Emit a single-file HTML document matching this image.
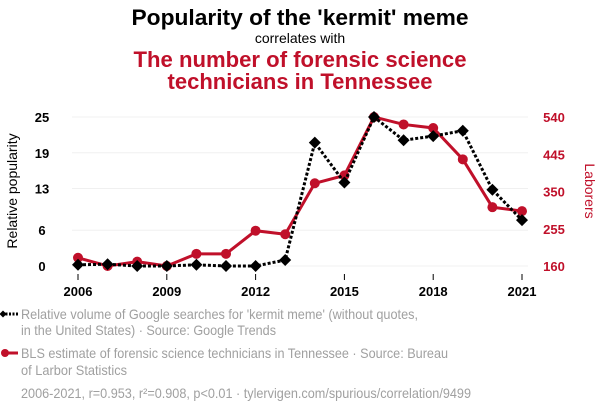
<!DOCTYPE html>
<html><head><meta charset="utf-8"><style>
body{margin:0;background:#fff;width:600px;height:414px;overflow:hidden;font-family:"Liberation Sans",sans-serif}
svg text{font-family:"Liberation Sans",sans-serif}
</style></head><body>
<svg id="c" width="600" height="414">
<text x="300" y="25" text-anchor="middle" font-size="22" font-weight="bold" fill="#000" textLength="337" lengthAdjust="spacingAndGlyphs">Popularity of the 'kermit' meme</text>
<text x="300" y="43" text-anchor="middle" font-size="14" fill="#000">correlates with</text>
<text x="300" y="67" text-anchor="middle" font-size="22" font-weight="bold" fill="#c0102a" textLength="333" lengthAdjust="spacingAndGlyphs">The number of forensic science</text>
<text x="300" y="89" text-anchor="middle" font-size="22" font-weight="bold" fill="#c0102a">technicians in Tennessee</text>
<text transform="translate(17,191) rotate(-90)" text-anchor="middle" font-size="14" fill="#000">Relative popularity</text>
<text transform="translate(585,191) rotate(90)" text-anchor="middle" font-size="14" fill="#c0102a">Laborers</text>
<g id="grid"></g><g id="axes"></g><g id="marks"></g>
<g>
<line x1="2" y1="314" x2="18" y2="314" stroke="#000" stroke-width="3" stroke-dasharray="2,1.5"/>
<rect x="0.5" y="311.5" width="5" height="5" transform="rotate(45 3 314)" fill="#000"/>
<text x="21" y="319" font-size="14" fill="#a0a0a0" textLength="397" lengthAdjust="spacingAndGlyphs">Relative volume of Google searches for 'kermit meme' (without quotes,</text>
<text x="21" y="335" font-size="14" fill="#a0a0a0" textLength="255" lengthAdjust="spacingAndGlyphs">in the United States) · Source: Google Trends</text></g>
<g>
<line x1="3" y1="353" x2="18" y2="353" stroke="#c0102a" stroke-width="3"/>
<circle cx="5" cy="353" r="4" fill="#c0102a"/>
<text x="21" y="358" font-size="14" fill="#a0a0a0" textLength="427" lengthAdjust="spacingAndGlyphs">BLS estimate of forensic science technicians in Tennessee · Source: Bureau</text>
<text x="21" y="375" font-size="14" fill="#a0a0a0" textLength="106" lengthAdjust="spacingAndGlyphs">of Larbor Statistics</text></g>
<text x="21" y="398" font-size="14" fill="#a0a0a0" textLength="450" lengthAdjust="spacingAndGlyphs">2006-2021, r=0.953, r²=0.908, p&lt;0.01 · tylervigen.com/spurious/correlation/9499</text>
</svg>
<script>
const years=[2006,2007,2008,2009,2010,2011,2012,2013,2014,2015,2016,2017,2018,2019,2020,2021];
const kermit=[0.2,0.3,0,0,0.2,0,0,1,20.7,14,25,21.1,21.8,22.7,12.8,7.7];
const techs=[181,160,171,160,191,191,250,241,371,391,540,521,512,432,310,300];
const leftTicks=[0,6,13,19,25];
const rightTicks=[160,255,350,445,540];
const xTicks=[2006,2009,2012,2015,2018,2021];
const NS="http://www.w3.org/2000/svg";
const x=v=>78+(v-2006)/15*444;
const yl=v=>266-v/25*149;
const yr=v=>266-(v-160)/380*149;
function mk(t,a,p){const e=document.createElementNS(NS,t);for(const k in a)e.setAttribute(k,a[k]);p.appendChild(e);return e;}
const grid=document.getElementById('grid'),axes=document.getElementById('axes'),marks=document.getElementById('marks');
leftTicks.forEach((t,i)=>{
 const g=mk('line',{x1:72,x2:528,y1:yl(t),y2:yl(t),stroke:'#f0f0f0','stroke-width':1},grid);
 
 
 const l=mk('text',{x:42,y:yl(t)+5,'text-anchor':'middle','font-size':13,'font-weight':'bold',fill:'#000'},axes);l.textContent=t;
 
 
 const r=mk('text',{x:554,y:yr(rightTicks[i])+5,'text-anchor':'middle','font-size':13,'font-weight':'bold',fill:'#c0102a'},axes);r.textContent=rightTicks[i];
 
 
});
xTicks.forEach(t=>{
 mk('line',{x1:x(t),x2:x(t),y1:274,y2:280,stroke:'#000','stroke-width':1},axes);
 const l=mk('text',{x:x(t),y:296,'text-anchor':'middle','font-size':13,'font-weight':'bold',fill:'#000'},axes);l.textContent=t;
 
 
});
const rp=mk('polyline',{points:years.map((y,i)=>x(y)+','+yr(techs[i])).join(' '),fill:'none',stroke:'#c0102a','stroke-width':3},marks);


years.forEach((y,i)=>{const c=mk('circle',{cx:x(y),cy:yr(techs[i]),r:5,fill:'#c0102a'},marks);
 
 });
const kp=mk('polyline',{points:years.map((y,i)=>x(y)+','+yl(kermit[i])).join(' '),fill:'none',stroke:'#000','stroke-width':3,'stroke-dasharray':'3,2'},marks);


years.forEach((y,i)=>{const cx=x(y),cy=yl(kermit[i]);
 const d=mk('polygon',{points:`${cx},${cy-6} ${cx+6},${cy} ${cx},${cy+6} ${cx-6},${cy}`,fill:'#000'},marks);
 
 });
</script>
</body></html>
